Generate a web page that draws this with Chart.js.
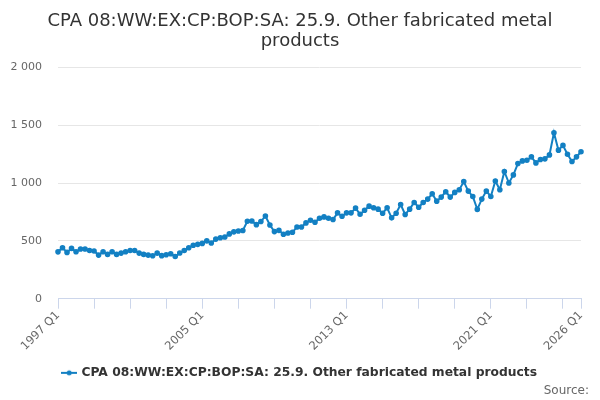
<!DOCTYPE html>
<html>
<head>
<meta charset="utf-8">
<script src="https://cdn.jsdelivr.net/npm/chart.js@4/dist/chart.umd.min.js"></script>
<style>
  html, body { margin: 0; padding: 0; background: #fff; }
  #wrap { position: relative; width: 600px; height: 400px; }
</style>
</head>
<body>
<div id="wrap"><canvas id="chart" width="600" height="400"></canvas></div>
<script>
// quarters 1997 Q1 .. 2026 Q1
const firstYear = 1997;
const lastYear = 2026;
const quarters = [];
for (let y = firstYear; y <= lastYear; y++) {
  for (let q = 1; q <= 4; q++) {
    if (y === lastYear && q > 1) break;
    quarters.push(y + ' Q' + q);
  }
}

// values, one per quarter
const values = [
  405, 441, 400, 435, 406, 429, 429, 417, 412, 377, 406, 383, 406, 383, 394, 406,
  417, 417, 394, 383, 377, 371, 394, 372, 380, 388, 365, 395, 417, 440, 462, 470,
  478, 500, 482, 515, 527, 533, 560, 578, 585, 590, 670, 672, 640, 667, 715, 637,
  580, 591, 557, 568, 574, 620, 620, 655, 678, 661, 696, 707, 696, 684, 742, 713,
  742, 742, 783, 730, 765, 800, 786, 774, 739, 786, 699, 739, 814, 728, 774, 832,
  791, 832, 861, 907, 843, 878, 925, 878, 919, 942, 1012, 930, 884, 772, 861, 930,
  884, 1017, 942, 1100, 1000, 1070, 1168, 1191, 1197, 1226, 1174, 1203, 1209, 1243, 1435, 1284,
  1325, 1249, 1186, 1226, 1270
];

const titleLines = ['CPA 08:WW:EX:CP:BOP:SA: 25.9. Other fabricated metal', 'products'];
const seriesName = 'CPA 08:WW:EX:CP:BOP:SA: 25.9. Other fabricated metal products';
const yTicks = [0, 500, 1000, 1500, 2000];
const sourceText = 'Source:';

const lineColor = '#1380c3';
const fontFamily = '"DejaVu Sans", sans-serif';
const lastIdx = quarters.length - 1;

// legend symbol: short line with a dot
function legendSymbol() {
  const c = document.createElement('canvas');
  c.width = 16; c.height = 8;
  const g = c.getContext('2d');
  g.strokeStyle = lineColor; g.lineWidth = 2;
  g.beginPath(); g.moveTo(0, 4); g.lineTo(16, 4); g.stroke();
  g.fillStyle = lineColor;
  g.beginPath(); g.arc(8, 4, 2.5, 0, Math.PI * 2); g.fill();
  return c;
}

const sourcePlugin = {
  id: 'sourceText',
  afterDraw(chart) {
    const ctx = chart.ctx;
    ctx.save();
    ctx.font = '12px ' + fontFamily;
    ctx.fillStyle = '#666';
    ctx.textAlign = 'right';
    ctx.textBaseline = 'middle';
    ctx.fillText(sourceText, 589, 391);
    ctx.restore();
  }
};

new Chart(document.getElementById('chart'), {
  type: 'line',
  data: {
    labels: quarters,
    datasets: [{
      label: seriesName,
      data: values,
      borderColor: lineColor,
      backgroundColor: lineColor,
      borderWidth: 2,
      pointRadius: 1.8,
      pointHoverRadius: 2,
      pointStyle: 'circle',
      tension: 0
    }]
  },
  options: {
    responsive: false,
    animation: false,
    layout: { padding: { left: 0, right: 0, top: 0, bottom: 11 } },
    plugins: {
      title: {
        display: true,
        text: titleLines,
        color: '#333',
        font: { family: fontFamily, size: 18, weight: 'normal', lineHeight: 1.12 },
        padding: { top: 11, bottom: 16 }
      },
      legend: {
        position: 'bottom',
        labels: {
          usePointStyle: true,
          pointStyle: legendSymbol(),
          color: '#333',
          font: { family: fontFamily, size: 12.3, weight: 'bold' },
          padding: 8
        }
      },
      tooltip: { enabled: false }
    },
    scales: {
      x: {
        type: 'category',
        offset: false,
        afterFit(scale) { scale.height = 60; },
        border: { display: true, color: '#ccd6eb', width: 1 },
        grid: {
          drawOnChartArea: false,
          drawTicks: true,
          tickLength: 10,
          tickColor: ctx => (ctx.index % 8 === 0 || ctx.index === lastIdx) ? '#ccd6eb' : 'rgba(0,0,0,0)'
        },
        ticks: {
          autoSkip: false,
          minRotation: 45,
          maxRotation: 45,
          color: '#666',
          font: { family: fontFamily, size: 11.5 },
          padding: 0,
          callback: function (val, i) {
            return (i % 32 === 0 || i === lastIdx) ? quarters[i] : '';
          }
        }
      },
      y: {
        min: 0,
        max: 2000,
        afterFit(scale) { scale.width = 58; },
        afterBuildTicks(scale) { scale.ticks = yTicks.map(v => ({ value: v })); },
        border: { display: false },
        grid: { color: '#e6e6e6', drawTicks: false },
        ticks: {
          color: '#666',
          padding: 16,
          font: { family: fontFamily, size: 11 },
          callback: v => String(v).replace(/\B(?=(\d{3})+(?!\d))/g, ' ')
        }
      },
      // empty right-hand axis, only to keep the plot area off the right edge
      yRight: {
        position: 'right',
        min: 0,
        max: 2000,
        afterFit(scale) { scale.width = 19; },
        border: { display: false },
        grid: { display: false },
        ticks: { display: false }
      }
    }
  },
  plugins: [sourcePlugin]
});
</script>
</body>
</html>
